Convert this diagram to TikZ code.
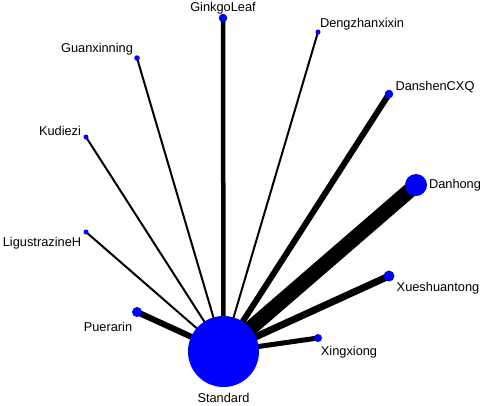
\documentclass[tikz,border=0pt]{standalone}
\usepackage{fontspec}
\setmainfont{Liberation Sans}
\usetikzlibrary{backgrounds}
\tikzset{
  dot/.style={circle,fill={rgb,255:red,0;green,0;blue,255},draw=none,inner sep=0pt,minimum size=#1},
  lbl/.style={inner sep=0pt,font=\fontsize{12.8}{14}\selectfont,text=black},
  edge/.style={draw=black,line width=#1}
}
\begin{document}
\begin{tikzpicture}[x=1pt,y=-1pt]
\useasboundingbox (0,0) rectangle (484,405);
% nodes
\node[dot=71pt] (std) at (223.5,351.5) {};
\node[dot=8.5pt] (gin) at (223,18) {};
\node[dot=5.5pt] (gua) at (137,58) {};
\node[dot=5pt] (kud) at (86,137) {};
\node[dot=5pt] (lig) at (86,232) {};
\node[dot=10pt] (pue) at (137,312) {};
\node[dot=5pt] (den) at (318,32) {};
\node[dot=8.5pt] (dan) at (389,94) {};
\node[dot=22pt] (dhg) at (416,185) {};
\node[dot=11pt] (xue) at (389,276) {};
\node[dot=8pt] (xin) at (318,338) {};
% labels
\node[lbl] (lstd) at (223.5,398) {Standard};
\node[lbl] (lgin) at (223,8) {GinkgoLeaf};
\node[lbl] (lgua) at (97,49) {Guanxinning};
\node[lbl] (lkud) at (60,131) {Kudiezi};
\node[lbl] (llig) at (42,243) {LigustrazineH};
\node[lbl] (lpue) at (108,327) {Puerarin};
\node[lbl] (lden) at (362,24) {Dengzhanxixin};
\node[lbl] (ldan) at (435,87) {DanshenCXQ};
\node[lbl] (ldhg) at (455,185) {Danhong};
\node[lbl] (lxue) at (438,288) {Xueshuantong};
\node[lbl] (lxin) at (349,352) {Xingxiong};
% edges
\begin{scope}[on background layer]
\draw[edge=4.5pt] (std.center) -- (gin.center);
\draw[edge=2pt] (std.center) -- (gua.center);
\draw[edge=2pt] (std.center) -- (kud.center);
\draw[edge=2pt] (std.center) -- (lig.center);
\draw[edge=6pt] (std.center) -- (pue.center);
\draw[edge=2pt] (std.center) -- (den.center);
\draw[edge=6pt] (std.center) -- (dan.center);
\draw[edge=15pt] (std.center) -- (dhg.center);
\draw[edge=7pt] (std.center) -- (xue.center);
\draw[edge=5pt] (std.center) -- (xin.center);
\end{scope}
\end{tikzpicture}
\end{document}
